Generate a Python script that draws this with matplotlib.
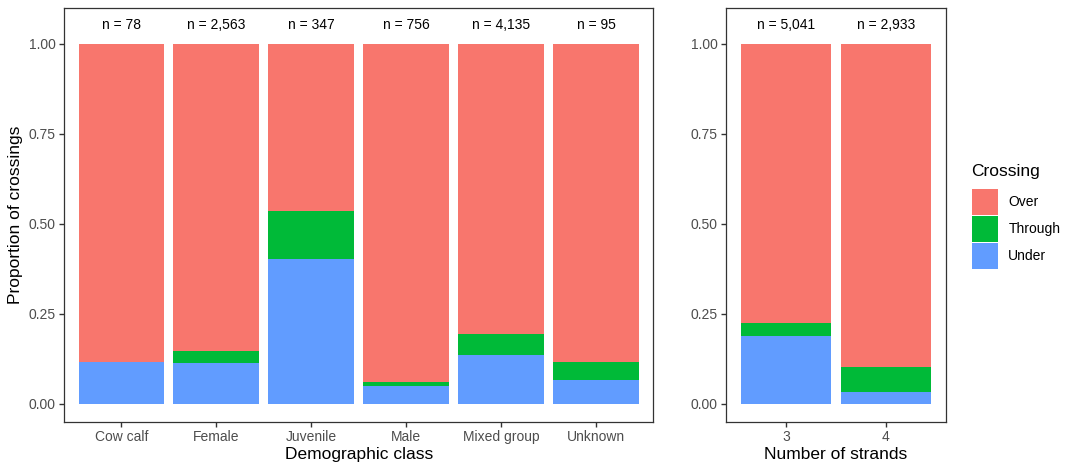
import numpy as np
import matplotlib.pyplot as plt
from matplotlib.patches import Patch

plt.rcParams['font.family'] = ['Liberation Sans', 'DejaVu Sans']

# proportions of crossings by type, per group
demo_classes = ['Cow calf', 'Female', 'Juvenile', 'Male', 'Mixed group', 'Unknown']
demo_n = [78, 2563, 347, 756, 4135, 95]
demo_under = [0.117, 0.112, 0.402, 0.049, 0.136, 0.065]
demo_through = [0.0, 0.035, 0.133, 0.012, 0.059, 0.052]

strands = ['3', '4']
strand_n = [5041, 2933]
strand_under = [0.188, 0.033]
strand_through = [0.036, 0.068]

crossing_types = ['Over', 'Through', 'Under']
colors = {'Over': '#F8766D', 'Through': '#00BA38', 'Under': '#619CFF'}

W, H = 1069, 466
fig = plt.figure(figsize=(W / 100, H / 100), dpi=100)
ax_l = fig.add_axes([64.3 / W, 1 - 421.7 / H, 588.7 / W, 413.7 / H])
ax_r = fig.add_axes([726 / W, 1 - 421.7 / H, 220 / W, 413.7 / H])


def stacked(ax, cats, n, under, through, xlabel):
    x = np.arange(1, len(cats) + 1)
    under = np.array(under)
    through = np.array(through)
    over = 1 - under - through
    ax.bar(x, under, width=0.9, color=colors['Under'], linewidth=0)
    ax.bar(x, through, bottom=under, width=0.9, color=colors['Through'], linewidth=0)
    ax.bar(x, over, bottom=under + through, width=0.9, color=colors['Over'], linewidth=0)
    for xi, ni in zip(x, n):
        ax.text(xi, 1.052, f'n = {ni:,}', ha='center', va='center', fontsize=10, color='black')
    ax.set_xlim(0.4, len(cats) + 0.6)
    ax.set_ylim(-0.05, 1.10)
    ax.set_xticks(x)
    ax.set_xticklabels(cats)
    ax.set_yticks([0, 0.25, 0.5, 0.75, 1.0])
    ax.set_yticklabels(['0.00', '0.25', '0.50', '0.75', '1.00'])
    ax.tick_params(axis='both', length=3.5, width=1, color='#333333',
                   labelcolor='#4D4D4D', labelsize=10, pad=2.5)
    for s in ['top', 'left', 'bottom', 'right']:
        ax.spines[s].set_color('#333333')
        ax.spines[s].set_linewidth(0.9)
    ax.set_xlabel(xlabel, fontsize=12.5, labelpad=2)


stacked(ax_l, demo_classes, demo_n, demo_under, demo_through, 'Demographic class')
stacked(ax_r, strands, strand_n, strand_under, strand_through, 'Number of strands')
ax_l.set_ylabel('Proportion of crossings', fontsize=12.5, labelpad=4)

handles = [Patch(facecolor=colors[c], edgecolor='none') for c in crossing_types]
leg = fig.legend(handles, crossing_types, title='Crossing', loc='upper left',
                 bbox_to_anchor=(959 / W, 1 - 152 / H), frameon=False,
                 fontsize=10, title_fontsize=12.5, handlelength=1.9,
                 handleheight=2.45, labelspacing=0.1, handletextpad=0.75)
leg._legend_box.align = 'left'
leg._legend_box.sep = 7

fig.savefig('out.png', dpi=100)
